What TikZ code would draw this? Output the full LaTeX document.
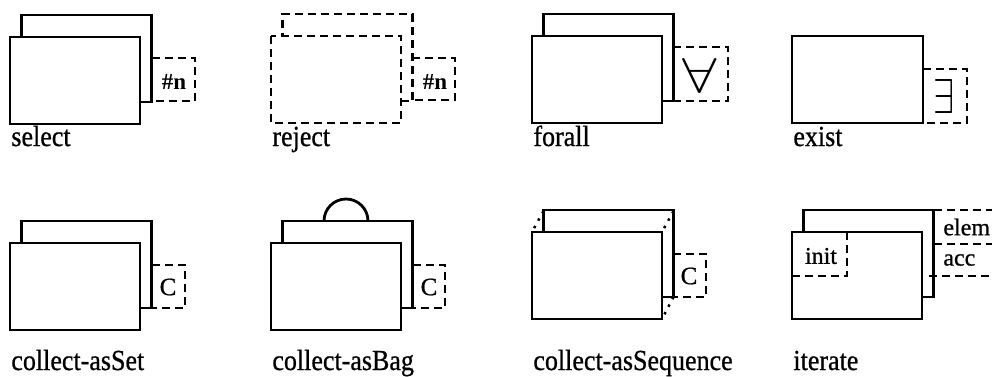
\documentclass[tikz,border=0pt]{standalone}
\usepackage{fontspec}
\setmainfont{Liberation Serif}
\newfontfamily\labfont[FakeBold=0.8]{Liberation Serif}
\begin{document}
\begin{tikzpicture}[x=1pt, y=-1pt, line width=2.8pt, line join=miter,
  brk/.style={dash pattern=on 8pt off 5pt, line width=2.5pt},
  dots/.style={dash pattern=on 2.5pt off 6pt, line width=2.5pt},
  lab/.style={anchor=base west, inner sep=0pt, font=\labfont\fontsize{26}{30}\selectfont},
  tag/.style={inner sep=0pt, font=\labfont\fontsize{25}{26}\selectfont},
  hashtag/.style={inner sep=0pt, font=\bfseries\fontsize{23}{25}\selectfont},
  side/.style={anchor=west, inner sep=0pt, font=\labfont\fontsize{24}{28}\selectfont},
  sheets/.pic={
    % rear sheet, partly hidden by the front one
    \draw (130,65) -- (141.5,65) -- (141.5,-22) -- (11.5,-22) -- (11.5,0);
    % front sheet
    \draw (0,0) rectangle (130,87);
  }]
\useasboundingbox (0,0) rectangle (992,376);

% ---- select
\pic at (10,37) {sheets};
\draw[brk] (152,58) -- (195,58) -- (195,101) -- (152,101);
\node[hashtag] (selN) at (174,82) {\#n};
\node[lab] (selL) at (10,146) {\scalebox{1}[1.12]{select}};

% ---- reject
\pic[brk] at (271,36) {sheets};
\draw[brk] (412,58) -- (455,58) -- (455,100) -- (412,100);
\node[hashtag] (rejN) at (435,82) {\#n};
\node[lab] (rejL) at (271,146) {\scalebox{1}[1.12]{reject}};

% ---- forall
\pic at (532,36) {sheets};
\draw[brk] (673,47) -- (728,47) -- (728,101) -- (673,101);
\node[inner sep=0pt] (faQ) at (700,75) {\scalebox{6.2}[4.9]{$\forall$}};
\node[lab] (faL) at (532,146) {\scalebox{1}[1.12]{forall}};

% ---- exist
\draw (792,36) rectangle (923,123);
\draw[brk] (923,69) -- (967,69) -- (967,123) -- (923,123);
\node[inner sep=0pt] (exQ) at (944,96) {\scalebox{3.8}[4.9]{$\exists$}};
\node[lab] (exL) at (792,146) {\scalebox{1}[1.12]{exist}};

% ---- collect-asSet
\pic at (10,243) {sheets};
\draw[brk] (152,265) -- (185,265) -- (185,308) -- (152,308);
\node[tag] (setC) at (168,287) {C};
\node[lab] (setL) at (10,370) {\scalebox{1}[1.12]{collect-asSet}};

% ---- collect-asBag
\pic at (271,243) {sheets};
\draw (324,221) arc[start angle=180, end angle=360, radius=22];
\draw[brk] (413,265) -- (445,265) -- (445,308) -- (413,308);
\node[tag] (bagC) at (429,287) {C};
\node[lab] (bagL) at (271,370) {\scalebox{1}[1.12]{collect-asBag}};

% ---- collect-asSequence
\pic at (532,232) {sheets};
\draw[dots] (543.5,211) -- (532,232);
\draw[dots] (673.5,211) -- (662,232);
\draw[dots] (673.5,297) -- (662,319);
\draw[brk] (673,254) -- (706,254) -- (706,297) -- (673,297);
\node[tag] (seqC) at (689,276) {C};
\node[lab] (seqL) at (532,370) {\scalebox{1}[1.12]{collect-asSequence}};

% ---- iterate
\pic at (792,232) {sheets};
\draw[brk] (847,232) -- (847,276) -- (792,276);
\node[side, anchor=center] (itInit) at (821,256) {init};
\draw[brk] (933.5,210) -- (992,210);
\draw[brk] (933.5,244) -- (992,244);
\draw[brk] (929,276) -- (992,276);
\node[side] (itElem) at (942,227) {elem};
\node[side] (itAcc) at (942,260) {acc};
\node[lab] (itL) at (792,370) {\scalebox{1}[1.12]{iterate}};
\end{tikzpicture}
\end{document}
